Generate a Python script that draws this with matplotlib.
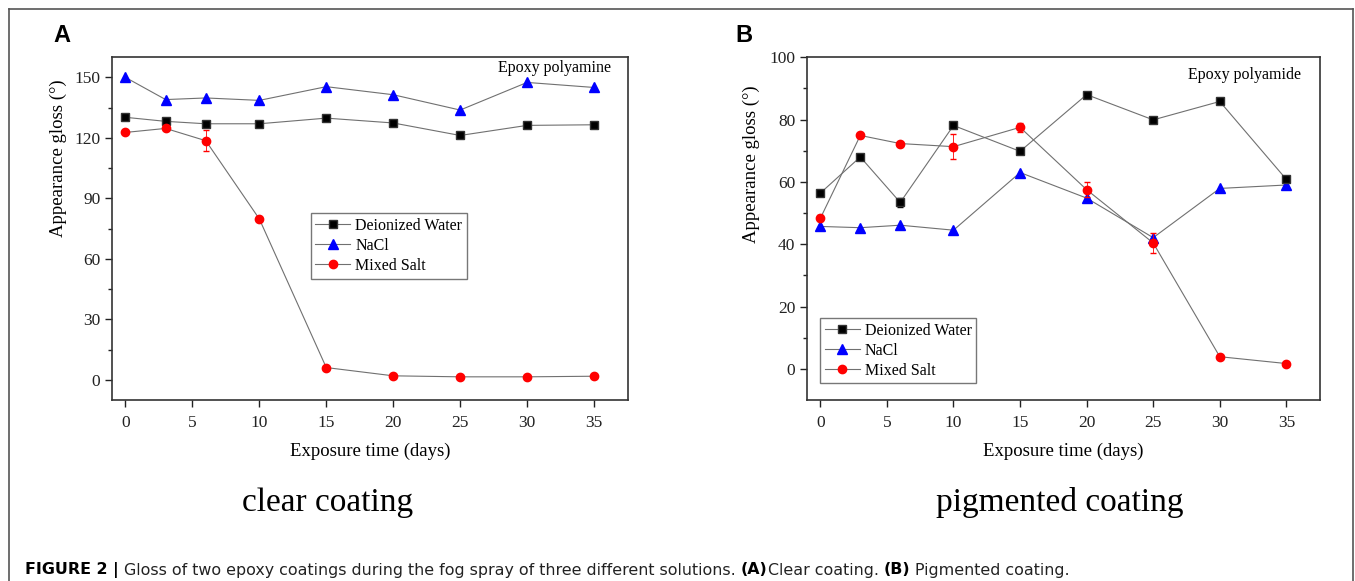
import matplotlib.pyplot as plt
from matplotlib.lines import Line2D

# exposure days
days = [0, 3, 6, 10, 15, 20, 25, 30, 35]

# (A) clear coating, epoxy polyamine
clear_water = [130.2, 128.2, 127.0, 127.0, 129.8, 127.4, 121.2, 126.2, 126.5]
clear_nacl = [150.0, 139.0, 139.8, 138.6, 145.4, 141.4, 133.8, 147.5, 145.0]
clear_mixed = [122.7, 124.7, 118.6, 79.8, 6.1, 2.0, 1.5, 1.5, 1.8]
clear_mixed_err = [1.0, 1.0, 5.3, 0.5, 0.5, 0.3, 0.3, 0.3, 0.3]

# (B) pigmented coating, epoxy polyamide
pig_water = [56.4, 68.0, 53.4, 78.1, 69.8, 88.0, 79.9, 85.8, 60.8]
pig_water_err = [0.5, 0.5, 1.5, 0.5, 0.5, 0.5, 0.5, 0.5, 0.5]
pig_nacl = [45.7, 45.3, 46.1, 44.5, 63.0, 54.8, 42.1, 57.9, 59.0]
pig_mixed = [48.3, 74.9, 72.3, 71.3, 77.5, 57.5, 40.4, 3.9, 1.7]
pig_mixed_err = [1.0, 0.8, 0.5, 4.0, 1.5, 2.5, 3.3, 0.3, 0.3]

serif = 'Liberation Serif'
sans = 'Liberation Sans'
line_col = '#707070'

fig = plt.figure(figsize=(13.55, 5.81), dpi=100)

# frame around the figure (top, left, right)
for xs, ys in [([0.0065, 0.9985], [0.985, 0.985]),
               ([0.0065, 0.0065], [0.0, 0.985]),
               ([0.9985, 0.9985], [0.0, 0.985])]:
    fig.add_artist(Line2D(xs, ys, transform=fig.transFigure, color='#555555', lw=1.2))

sq = dict(marker='s', mfc='black', mec='#333333', ms=5.8)
tri = dict(marker='^', mfc='blue', mec='blue', ms=7)
circ = dict(marker='o', mfc='red', mec='red', ms=6)


def draw_panel(ax, water, nacl, mixed, mixed_err, water_err=None):
    ax.errorbar(days, water, yerr=water_err, color=line_col, lw=0.8, ecolor='black',
                capsize=2, elinewidth=0.6, **sq)
    ax.plot(days, nacl, color=line_col, lw=0.8, **tri)
    ax.errorbar(days, mixed, yerr=mixed_err, color=line_col, lw=0.8, ecolor='red',
                capsize=2, elinewidth=0.6, **circ)
    for s in ax.spines.values():
        s.set_color('#333333')
        s.set_linewidth(1.2)
    ax.tick_params(direction='out', length=5, width=1, labelsize=12.5, colors='#222222')
    ax.tick_params(which='minor', direction='out', length=3, width=1, colors='#222222')
    ax.tick_params(axis='x', pad=6)
    ax.set_xlim(-1.0, 37.5)
    ax.set_xticks([0, 5, 10, 15, 20, 25, 30, 35])
    ax.set_xlabel('Exposure time (days)', fontfamily=serif, fontsize=13.5, labelpad=8)
    ax.set_ylabel('Appearance gloss (°)', fontfamily=serif, fontsize=13.5)


def add_legend(ax, anchor):
    handles = [Line2D([], [], color=line_col, lw=0.8, **sq),
               Line2D([], [], color=line_col, lw=0.8, **tri),
               Line2D([], [], color=line_col, lw=0.8, **circ)]
    labels = ['Deionized Water', 'NaCl', 'Mixed Salt']
    ax.legend(handles, labels, loc='upper left', bbox_to_anchor=anchor,
              prop={'family': serif, 'size': 11.5}, fancybox=False, edgecolor='#777777',
              framealpha=1, handlelength=2.2, handletextpad=0.3, borderpad=0.3,
              labelspacing=0.25, borderaxespad=0)


# panel A
axA = fig.add_axes([0.0827, 0.3115, 0.3804, 0.590])
draw_panel(axA, clear_water, clear_nacl, clear_mixed, clear_mixed_err)
axA.set_ylim(-10, 160)
axA.set_yticks([0, 30, 60, 90, 120, 150])
axA.set_yticks([15, 45, 75, 105, 135], minor=True)
axA.yaxis.set_label_coords(-0.088, 0.705)
axA.text(0.968, 0.968, 'Epoxy polyamine', transform=axA.transAxes, ha='right', va='center',
         fontfamily=serif, fontsize=11.5)
add_legend(axA, (0.385, 0.545))

# panel B
axB = fig.add_axes([0.5956, 0.3115, 0.3783, 0.590])
draw_panel(axB, pig_water, pig_nacl, pig_mixed, pig_mixed_err, water_err=pig_water_err)
axB.set_ylim(-10, 100)
axB.set_yticks([0, 20, 40, 60, 80, 100])
axB.set_yticks([10, 30, 50, 70, 90], minor=True)
axB.yaxis.set_label_coords(-0.091, 0.688)
axB.text(0.964, 0.948, 'Epoxy polyamide', transform=axB.transAxes, ha='right', va='center',
         fontfamily=serif, fontsize=11.5)
add_legend(axB, (0.025, 0.24))

for ax in (axA, axB):
    for lab in ax.get_xticklabels() + ax.get_yticklabels():
        lab.set_fontfamily(serif)

# panel letters and sub-captions
fig.text(53 / 1355, 1 - 36 / 581, 'A', fontfamily=sans, fontweight='bold', fontsize=17, va='center')
fig.text(735 / 1355, 1 - 36 / 581, 'B', fontfamily=sans, fontweight='bold', fontsize=17, va='center')
fig.text(328 / 1355, 1 - 503 / 581, 'clear coating', fontfamily=serif, fontsize=24,
         ha='center', va='center')
fig.text(1060 / 1355, 1 - 503 / 581, 'pigmented coating', fontfamily=serif, fontsize=24,
         ha='center', va='center')

# figure caption, pieces placed one after another
cap_y = 1 - 570 / 581
cap_font = 'DejaVu Sans'
pieces = [('FIGURE 2 | ', 'bold', 'black'),
          ('Gloss of two epoxy coatings during the fog spray of three different solutions. ', 'normal', '#222222'),
          ('(A)', 'bold', 'black'),
          ('Clear coating. ', 'normal', '#222222'),
          ('(B)', 'bold', 'black'),
          (' Pigmented coating.', 'normal', '#222222')]
x = 25 / 1355
for txt, weight, col in pieces:
    t = fig.text(x, cap_y, txt, fontfamily=cap_font, fontweight=weight, fontsize=11.45,
                 va='center', color=col)
    fig.canvas.draw()
    x = t.get_window_extent().x1 / fig.bbox.width

fig.savefig('out.png', dpi=100)
